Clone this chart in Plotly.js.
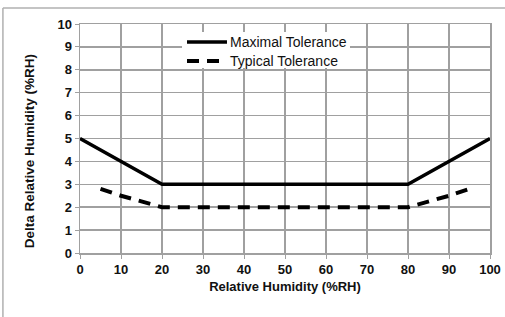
<!DOCTYPE html>
<html>
<head>
<meta charset="utf-8">
<script src="https://cdn.plot.ly/plotly-3.0.1.min.js"></script>
<style>html,body{margin:0;padding:0;background:#fff}#chart{width:505px;height:317px}</style>
</head>
<body>
<div id="chart"></div>
<script>
const seriesNames = ['Maximal Tolerance', 'Typical Tolerance'];
const maxRH = [0, 20, 80, 100];
const maxDelta = [5, 3, 3, 5];
const typRH = [5, 10, 20, 80, 90, 95];
const typDelta = [2.8, 2.5, 2.0, 2.0, 2.5, 2.8];
const tickVals = [0, 10, 20, 30, 40, 50, 60, 70, 80, 90, 100];
const yTickVals = [0, 1, 2, 3, 4, 5, 6, 7, 8, 9, 10];
const xTitle = 'Relative Humidity (%RH)';
const yTitle = 'Delta Relative Humidity (%RH)';

const FONT = 'Liberation Sans, Arial, sans-serif';
const solidLine = {color: '#000', width: 3.5};
const dashLine = {color: '#000', width: 4, dash: '12px,8px'};

const traces = [
  {x: maxRH, y: maxDelta, mode: 'lines', name: seriesNames[0], line: solidLine},
  {x: typRH, y: typDelta, mode: 'lines', name: seriesNames[1], line: dashLine}
];

const axisCommon = {
  showgrid: true, gridcolor: '#a0a0a0', gridwidth: 1.5,
  showline: true, linecolor: '#a0a0a0', linewidth: 1.5, mirror: true,
  zeroline: false, ticks: 'outside', ticklen: 4, tickcolor: '#a0a0a0',
  tickfont: {family: FONT, size: 13, color: '#111', weight: 'bold'}
};

const layout = {
  width: 505, height: 317,
  margin: {l: 80, r: 15, t: 24, b: 64},
  paper_bgcolor: '#fff', plot_bgcolor: '#fff',
  showlegend: false,
  xaxis: Object.assign({}, axisCommon, {
    range: [0, 100], tickvals: tickVals, fixedrange: true,
    title: {text: xTitle, standoff: 6,
      font: {family: FONT, size: 13, color: '#111', weight: 'bold'}}
  }),
  yaxis: Object.assign({}, axisCommon, {
    range: [0, 10], tickvals: yTickVals, fixedrange: true
  }),
  shapes: [
    {type: 'line', xref: 'paper', yref: 'paper', x0: -0.188, x1: 1.1, y0: 1.07, y1: 1.07,
     line: {color: '#b0b0b0', width: 1.5}},
    {type: 'line', xref: 'paper', yref: 'paper', x0: -0.188, x1: -0.188, y0: 1.07, y1: -0.3,
     line: {color: '#b0b0b0', width: 1.5}},
    {type: 'rect', xref: 'paper', yref: 'paper', x0: 0.2488, x1: 0.6585, y0: 0.8079, y1: 0.965,
     fillcolor: '#fff', line: {width: 0}, layer: 'above'},
    {type: 'line', xref: 'paper', yref: 'paper', x0: 0.261, x1: 0.3585, y0: 0.9214, y1: 0.9214,
     line: solidLine, layer: 'above'},
    {type: 'line', xref: 'paper', yref: 'paper', x0: 0.261, x1: 0.3585, y0: 0.8384, y1: 0.8384,
     line: dashLine, layer: 'above'}
  ],
  annotations: [
    {xref: 'paper', yref: 'paper', x: 0.361, y: 0.9214, xanchor: 'left', yanchor: 'middle',
     text: seriesNames[0], showarrow: false, font: {family: FONT, size: 14, color: '#111'}},
    {xref: 'paper', yref: 'paper', x: 0.361, y: 0.8384, xanchor: 'left', yanchor: 'middle',
     text: seriesNames[1], showarrow: false, font: {family: FONT, size: 14, color: '#111'}},
    {xref: 'paper', yref: 'paper', x: -0.124, y: 0.445, xanchor: 'center', yanchor: 'middle',
     textangle: -90, text: yTitle, showarrow: false,
     font: {family: FONT, size: 13.5, color: '#111', weight: 'bold'}}
  ]
};

Plotly.newPlot('chart', traces, layout, {displayModeBar: false, staticPlot: true});
</script>
</body>
</html>
